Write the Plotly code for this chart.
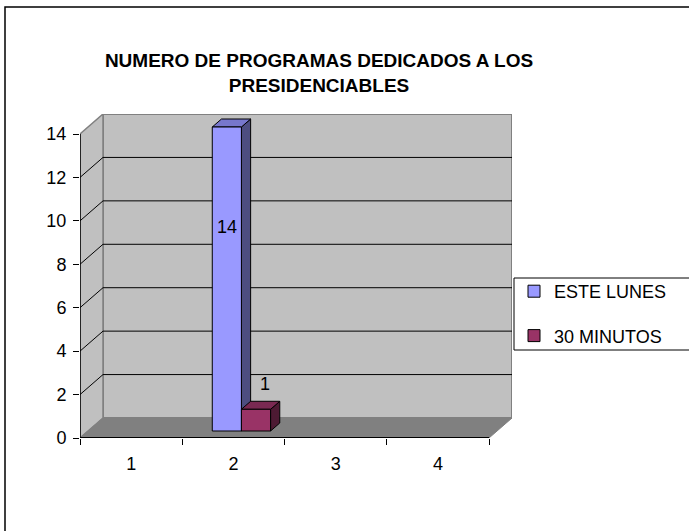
import plotly.graph_objects as go

# ---------------- data ----------------
categories = ["1", "2", "3", "4"]
este_lunes = [None, 14, None, None]
treinta_minutos = [None, 1, None, None]
y_ticks = [0, 2, 4, 6, 8, 10, 12, 14]
title_text = "NUMERO DE PROGRAMAS DEDICADOS A LOS<br>PRESIDENCIABLES"

# ---------------- geometry / style ----------------
W, H = 689, 531
# plot area in pixels: x 80..512, y 114..438
L, T = 80, 114
R, B = W - 512, H - 438
PW, PH = W - L - R, H - T - B
DX_PX, DY_PX = 23, 20          # depth of the pseudo-3D walls (pixels)
Y_MAX = 14
ppu_y = (PH - DY_PX) / Y_MAX
ppu_x = (PW - DX_PX) / len(categories)
dxu, dyu = DX_PX / ppu_x, DY_PX / ppu_y
x_pos = list(range(1, len(categories) + 1))
x_lo, x_hi = 0.5, len(categories) + 0.5

FONT = "Liberation Sans, Arial, sans-serif"
WALL = "#C0C0C0"
FLOOR = "#808080"
EDGE = "#808080"

BAR_W = 0.285
bar_front = 0.35   # fraction of depth where bars start
bar_deep = 0.40    # fraction of depth occupied by bars
base = bar_front * dyu
xshift = bar_front * dxu
sdx, sdy = bar_deep * dxu, bar_deep * dyu

series = [
    dict(name="ESTE LUNES", values=este_lunes, offset=xshift - BAR_W,
         front="#9999FF", top="#7777CC", side="#4D4D80",
         lbl_dx=0, lbl_dy=-100),
    dict(name="30 MINUTOS", values=treinta_minutos, offset=xshift,
         front="#993366", top="#7A2952", side="#4D1A33",
         lbl_dx=9, lbl_dy=25),
]


def px_to_paper_x(px):
    return (px - L) / PW


def px_to_paper_y(py):
    return (H - B - py) / PH


shapes = []
# back wall
shapes.append(dict(type="rect", xref="x", yref="y", x0=x_lo + dxu, x1=x_hi + dxu,
                   y0=dyu, y1=Y_MAX + dyu, fillcolor=WALL,
                   line=dict(color=EDGE, width=2), layer="below"))
# left wall
shapes.append(dict(type="path", xref="x", yref="y",
                   path=f"M{x_lo},0 L{x_lo+dxu},{dyu} L{x_lo+dxu},{Y_MAX+dyu} L{x_lo},{Y_MAX} Z",
                   fillcolor=WALL, line=dict(color=EDGE, width=1.5), layer="below"))
# floor
shapes.append(dict(type="path", xref="x", yref="y",
                   path=f"M{x_lo},0 L{x_hi},0 L{x_hi+dxu},{dyu} L{x_lo+dxu},{dyu} Z",
                   fillcolor=FLOOR, line=dict(color=EDGE, width=1), layer="below"))
# gridlines on walls
for v in y_ticks[1:-1]:
    shapes.append(dict(type="line", xref="x", yref="y", x0=x_lo + dxu, x1=x_hi + dxu,
                       y0=v + dyu, y1=v + dyu, line=dict(color="#000000", width=1),
                       layer="below"))
    shapes.append(dict(type="line", xref="x", yref="y", x0=x_lo, x1=x_lo + dxu,
                       y0=v, y1=v + dyu, line=dict(color="#000000", width=1),
                       layer="below"))
# front value axis
shapes.append(dict(type="line", xref="x", yref="y", x0=x_lo, x1=x_lo, y0=0, y1=Y_MAX,
                   line=dict(color="#000000", width=1.5), layer="below"))

# bar side / top faces
for s in series:
    for xc, v in zip(x_pos, s["values"]):
        if v is None:
            continue
        xl = xc + s["offset"]
        xr = xl + BAR_W
        y0, y1 = base, base + v
        shapes.append(dict(type="path", xref="x", yref="y",
                           path=f"M{xr},{y0} L{xr},{y1} L{xr+sdx},{y1+sdy} L{xr+sdx},{y0+sdy} Z",
                           fillcolor=s["side"], line=dict(color="#000000", width=1),
                           layer="below"))
        shapes.append(dict(type="path", xref="x", yref="y",
                           path=f"M{xl},{y1} L{xr},{y1} L{xr+sdx},{y1+sdy} L{xl+sdx},{y1+sdy} Z",
                           fillcolor=s["top"], line=dict(color="#000000", width=1),
                           layer="below"))

# front category axis
shapes.append(dict(type="line", xref="x", yref="y", x0=x_lo, x1=x_hi, y0=0, y1=0,
                   line=dict(color="#000000", width=2)))

# outer chart frame (extends beyond the canvas on right and bottom)
shapes.append(dict(type="rect", xref="paper", yref="paper",
                   x0=px_to_paper_x(5), x1=px_to_paper_x(W + 20),
                   y0=px_to_paper_y(H + 20), y1=px_to_paper_y(7),
                   line=dict(color="#000000", width=1.5), fillcolor="rgba(0,0,0,0)"))
# legend box (extends past the right edge)
shapes.append(dict(type="rect", xref="paper", yref="paper",
                   x0=px_to_paper_x(514), x1=px_to_paper_x(W + 20),
                   y0=px_to_paper_y(350), y1=px_to_paper_y(278),
                   line=dict(color="#000000", width=1), fillcolor="#FFFFFF"))

fig = go.Figure()
for i, s in enumerate(series):
    fig.add_trace(go.Bar(
        x=x_pos, y=s["values"], base=base, offset=s["offset"], width=BAR_W,
        name=s["name"], legendgroup=f"g{i}",
        marker=dict(color=s["front"], line=dict(color="#000000", width=1)),
        hoverinfo="y",
    ))

annotations = []
for s in series:
    for xc, v in zip(x_pos, s["values"]):
        if v is None:
            continue
        annotations.append(dict(
            x=xc + s["offset"] + BAR_W / 2, y=base + v, xref="x", yref="y",
            text=str(v), showarrow=False, xshift=s["lbl_dx"], yshift=s["lbl_dy"],
            font=dict(family=FONT, size=18, color="#000000")))

fig.update_layout(
    width=W, height=H,
    margin=dict(l=L, r=R, t=T, b=B, pad=0),
    paper_bgcolor="#FFFFFF", plot_bgcolor="#FFFFFF",
    barmode="overlay",
    title=dict(text="<b>" + title_text + "</b>", x=319 / W, xanchor="center",
               y=1 - 67 / H, yanchor="top", yref="container",
               font=dict(family=FONT, size=19, color="#000000")),
    xaxis=dict(range=[x_lo, x_hi + dxu], tickvals=x_pos, ticktext=categories,
               showgrid=False, zeroline=False, showline=False, ticks="",
               ticklabelstandoff=13,
               minor=dict(tickvals=[p - 0.5 for p in x_pos] + [x_hi], ticks="outside",
                          ticklen=6, tickcolor="#000000", tickwidth=1, showgrid=False),
               tickfont=dict(family=FONT, size=18, color="#000000")),
    yaxis=dict(range=[0, Y_MAX + dyu], tickvals=y_ticks, showgrid=False, zeroline=False,
               showline=False, ticks="outside", ticklen=6, tickcolor="#000000",
               ticklabelstandoff=3,
               tickfont=dict(family=FONT, size=18, color="#000000")),
    legend=dict(x=px_to_paper_x(514), y=px_to_paper_y(273), xanchor="left", yanchor="top",
                borderwidth=0, bgcolor="rgba(0,0,0,0)",
                tracegroupgap=18, font=dict(family=FONT, size=18, color="#000000")),
    shapes=shapes,
    annotations=annotations,
    showlegend=True,
)

fig.write_html(
    "out.html",
    config={"displayModeBar": False},
    post_script="document.body.style.margin='0';document.body.style.padding='0';",
)
